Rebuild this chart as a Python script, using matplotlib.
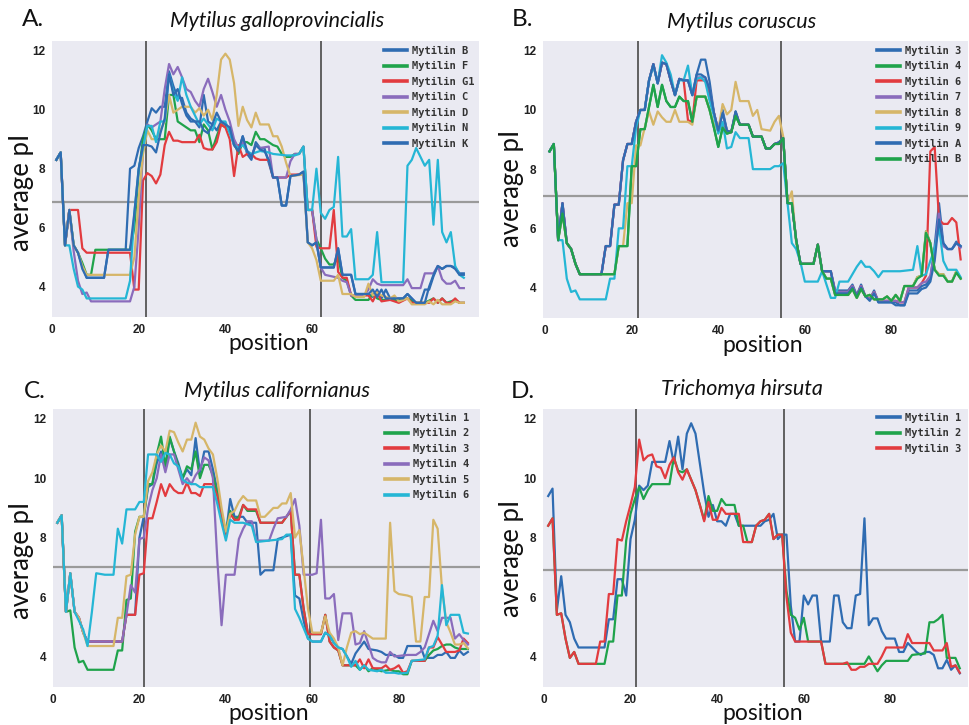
import matplotlib
matplotlib.use("Agg")
import matplotlib.pyplot as plt

# ---------------- data (vertices: position, average pI) ----------------
# Panel A: Mytilus galloprovincialis
a_labels = ["Mytilin B", "Mytilin F", "Mytilin G1", "Mytilin C", "Mytilin D", "Mytilin N", "Mytilin K"]
a_B = [(1,8.3),(2,8.55),(3,5.4),(4,6.6),(5,5.4),(6,5.15),(7,4.7),(8,4.3),(12,4.3),(13,5.25),(17,5.25),(18,8.0),(19,8.1),(20,8.7),(21,9.1),(22,9.6),(23,10.05),(24,9.9),(25,10.1),(26,10.1),(27,11.3),(28,10.8),(29,10.4),(30,10.4),(31,9.9),(32,9.7),(33,9.6),(34,9.4),(35,10.5),(36,9.6),(37,9.5),(38,9.3),(39,9.6),(40,9.5),(41,9.3),(42,8.8),(43,8.6),(44,9.1),(45,8.5),(46,8.3),(47,8.9),(48,8.7),(49,8.7),(50,8.2),(51,7.7),(52,7.7),(53,6.75),(54,6.75),(55,7.75),(57,7.8),(58,7.9),(59,5.5),(60,5.4),(61,5.5),(62,4.65),(65,4.65),(66,5.3),(67,4.4),(69,4.4),(70,3.75),(73,3.75),(74,3.65),(75,3.9),(76,3.6),(77,3.9),(78,3.6),(81,3.6),(82,3.75),(83,3.6),(84,3.45),(85,3.45),(86,3.9),(87,3.9),(88,4.35),(89,4.7),(90,4.6),(91,4.7),(92,4.7),(93,4.65),(94,4.45),(95,4.45)]
a_F = [(1,8.3),(2,8.55),(3,5.4),(4,6.6),(5,5.4),(6,5.15),(7,4.8),(8,4.4),(9,4.4),(10,5.25),(18,5.25),(19,6.0),(20,7.9),(21,9.0),(22,9.5),(23,9.3),(24,9.0),(26,9.0),(27,10.5),(28,10.5),(29,9.6),(30,9.5),(31,9.4),(32,9.3),(33,9.3),(34,8.9),(35,9.5),(36,9.3),(37,8.65),(38,9.1),(39,9.5),(40,9.4),(41,9.3),(42,8.9),(43,8.5),(44,8.9),(45,8.9),(46,8.8),(47,9.25),(48,9.0),(49,9.0),(50,8.9),(51,8.8),(52,8.75),(53,8.5),(54,8.4),(55,8.4),(56,8.5),(57,8.5),(58,8.75),(59,6.6),(60,6.6),(61,5.6),(62,5.3),(63,4.95),(64,4.75),(65,4.75),(66,5.0),(67,4.3),(68,4.2),(69,3.7),(70,3.55),(73,3.55),(74,3.75),(75,3.6),(76,3.55),(80,3.55),(82,3.6),(84,3.45),(86,3.45),(88,3.6),(89,3.45),(90,3.6),(91,3.45),(93,3.55),(94,3.45),(95,3.45)]
a_G1 = [(1,8.3),(2,8.55),(3,5.4),(4,6.6),(6,6.6),(7,5.3),(8,5.15),(18,5.15),(19,3.9),(20,3.9),(21,7.6),(22,7.85),(23,7.75),(24,7.5),(25,7.8),(26,8.8),(27,9.25),(28,8.95),(29,8.95),(30,8.9),(33,8.9),(34,9.15),(35,8.7),(36,8.65),(37,8.65),(38,8.9),(39,9.5),(40,9.4),(41,9.0),(42,7.75),(43,8.8),(44,8.4),(45,8.5),(46,8.5),(47,8.35),(48,8.3),(50,8.3),(51,7.7),(54,7.7),(55,7.8),(57,7.8),(58,7.85),(59,6.6),(60,6.6),(61,5.35),(62,5.3),(64,5.3),(65,6.6),(66,4.5),(67,4.3),(68,4.3),(69,3.7),(73,3.7),(74,3.5),(75,3.8),(76,3.5),(78,3.55),(80,3.45),(82,3.6),(83,3.45),(87,3.45),(88,3.6),(89,3.45),(90,3.6),(91,3.45),(92,3.45),(93,3.6),(94,3.45),(95,3.45)]
a_C = [(1,8.3),(2,8.55),(3,5.4),(4,6.6),(5,5.2),(6,4.2),(7,3.75),(8,3.8),(9,3.5),(18,3.5),(19,4.0),(20,6.0),(21,8.6),(22,9.5),(23,9.4),(24,9.5),(25,9.6),(26,10.7),(27,11.55),(28,11.2),(29,11.45),(30,11.1),(31,10.7),(32,10.6),(33,10.3),(34,10.1),(35,10.7),(36,11.05),(37,10.6),(38,10.1),(39,10.5),(40,10.0),(41,9.6),(42,9.0),(43,8.7),(44,8.9),(45,8.6),(46,8.4),(47,8.8),(48,8.7),(50,8.75),(51,7.7),(54,7.7),(55,8.25),(56,8.5),(57,8.5),(58,8.75),(59,6.6),(60,6.6),(61,5.6),(62,4.65),(63,4.4),(66,4.3),(67,4.2),(68,4.15),(69,3.7),(72,3.7),(73,3.9),(74,4.25),(75,4.1),(76,4.05),(81,4.05),(82,4.25),(83,3.95),(85,3.95),(86,4.45),(88,4.45),(89,4.7),(90,4.25),(91,4.1),(92,4.1),(93,4.2),(94,3.95),(95,3.95)]
a_D = [(1,8.3),(2,8.55),(3,5.4),(4,6.6),(5,5.4),(6,5.15),(7,4.7),(8,4.4),(18,4.4),(19,5.0),(20,7.0),(21,8.5),(22,9.3),(23,9.0),(24,9.0),(25,9.3),(26,9.6),(27,10.5),(28,9.9),(29,10.0),(30,10.1),(32,10.1),(33,9.9),(34,10.05),(35,9.8),(36,10.0),(37,9.65),(38,10.5),(39,11.7),(40,11.9),(41,11.7),(42,10.9),(43,9.45),(44,10.1),(45,9.65),(46,9.4),(47,9.9),(48,9.5),(50,9.5),(51,9.1),(52,9.1),(53,8.75),(54,8.2),(55,7.75),(58,7.8),(59,5.5),(60,5.3),(61,4.9),(62,4.2),(65,4.2),(66,4.4),(67,3.75),(69,3.75),(70,3.65),(72,3.65),(73,4.1),(74,3.7),(75,3.8),(76,3.7),(78,3.6),(79,3.7),(80,3.5),(82,3.6),(83,3.4),(86,3.4),(87,3.5),(88,3.4),(89,3.55),(90,3.4),(92,3.4),(93,3.5),(94,3.45),(95,3.45)]
a_N = [(1,8.3),(2,8.55),(3,5.4),(4,5.4),(5,4.6),(6,4.0),(7,3.9),(8,3.6),(17,3.6),(18,4.2),(19,6.5),(20,8.0),(21,8.7),(22,9.45),(23,9.45),(24,8.9),(25,9.6),(26,9.6),(27,11.2),(28,10.6),(29,10.3),(30,11.1),(31,10.5),(32,10.1),(33,9.8),(34,9.5),(35,9.7),(36,9.5),(37,9.3),(38,9.7),(39,9.6),(40,9.6),(41,9.2),(42,8.8),(43,8.7),(44,8.8),(45,8.6),(46,8.5),(48,8.6),(50,8.55),(51,8.5),(54,8.45),(56,8.45),(57,8.5),(58,8.75),(59,6.6),(60,6.6),(61,8.0),(62,6.5),(63,6.3),(64,6.6),(65,6.7),(66,8.4),(67,5.7),(68,5.7),(69,5.95),(70,4.25),(73,4.25),(74,4.4),(75,5.85),(76,4.15),(81,4.15),(82,8.1),(83,8.3),(84,8.7),(85,8.4),(86,8.1),(87,8.3),(88,6.1),(89,8.3),(90,5.85),(91,5.5),(92,5.85),(93,4.7),(94,4.4),(95,4.3)]
a_K = [(1,8.3),(2,8.55),(3,5.4),(4,6.6),(5,5.4),(6,5.15),(7,4.6),(8,4.3),(12,4.3),(13,5.25),(18,5.25),(19,6.5),(20,8.0),(21,8.8),(22,8.8),(23,8.75),(24,8.55),(25,9.2),(26,9.7),(27,11.2),(28,10.5),(29,10.7),(30,10.2),(31,9.8),(32,9.6),(34,9.6),(35,9.3),(36,9.2),(37,9.5),(38,9.9),(39,9.6),(40,9.5),(41,9.4),(42,8.8),(43,8.6),(44,9.1),(45,8.6),(46,8.4),(47,8.8),(48,8.65),(49,8.6),(50,8.3),(51,7.7),(52,7.7),(53,6.75),(54,6.75),(55,7.75),(57,7.8),(58,7.9),(59,5.5),(60,5.4),(61,5.5),(62,4.65),(65,4.65),(66,5.3),(67,4.4),(69,4.4),(70,3.75),(73,3.75),(74,3.9),(75,3.65),(76,3.9),(77,3.6),(81,3.6),(82,3.75),(83,3.6),(84,3.45),(86,3.45),(87,4.0),(88,4.4),(89,4.7),(90,4.6),(91,4.7),(92,4.7),(93,4.6),(94,4.4),(95,4.4)]

# Panel B: Mytilus coruscus
b_labels = ["Mytilin 3", "Mytilin 4", "Mytilin 6", "Mytilin 7", "Mytilin 8", "Mytilin 9", "Mytilin A", "Mytilin B"]
b_3 = [(1,8.6),(2,8.85),(3,5.6),(4,6.85),(5,5.5),(6,5.3),(7,4.8),(8,4.45),(13,4.45),(14,5.4),(15,5.4),(16,6.8),(17,6.8),(18,8.3),(19,8.85),(20,8.85),(21,9.6),(22,10.0),(23,10.0),(24,11.0),(25,11.55),(26,10.9),(27,11.6),(28,11.55),(29,11.0),(30,10.5),(31,11.05),(32,11.0),(33,11.0),(34,10.5),(35,11.2),(36,11.7),(37,11.7),(38,10.95),(39,9.9),(40,9.3),(41,10.0),(42,9.3),(43,9.25),(44,9.95),(45,9.5),(47,9.5),(48,9.1),(50,9.1),(51,8.7),(52,8.7),(53,8.85),(54,8.9),(55,9.05),(56,6.85),(57,6.85),(58,5.6),(59,4.8),(62,4.8),(63,5.45),(64,4.55),(66,4.55),(67,3.9),(70,3.9),(71,4.1),(72,3.75),(73,4.1),(74,3.7),(75,3.6),(76,3.9),(77,3.5),(81,3.5),(82,3.4),(83,3.4),(84,3.9),(86,3.9),(87,4.05),(88,4.1),(89,4.3),(90,5.4),(91,6.85),(92,5.5),(93,5.3),(94,5.3),(95,5.55),(96,5.4)]
b_4 = [(1,8.6),(2,8.85),(3,5.6),(4,6.5),(5,5.5),(6,5.3),(7,4.8),(8,4.45),(16,4.45),(17,5.4),(19,5.4),(20,8.1),(21,8.1),(22,9.35),(23,9.35),(24,10.1),(25,10.85),(26,10.1),(27,10.85),(28,10.3),(29,10.1),(30,10.1),(31,10.45),(32,10.3),(33,10.3),(34,9.6),(35,10.45),(37,10.45),(38,10.0),(39,9.4),(40,8.75),(41,9.4),(42,9.2),(43,9.25),(44,9.8),(45,9.5),(47,9.5),(48,9.1),(50,9.1),(51,8.7),(52,8.7),(53,8.85),(54,8.85),(55,9.05),(56,6.85),(57,6.85),(58,5.6),(59,4.8),(62,4.8),(63,5.45),(64,4.55),(65,4.3),(66,4.3),(67,3.75),(70,3.75),(71,3.95),(72,3.65),(73,3.95),(74,3.7),(75,3.75),(76,3.6),(78,3.6),(79,3.7),(80,3.55),(81,3.75),(82,3.55),(83,4.05),(85,4.05),(86,4.35),(87,4.4),(88,5.9),(89,5.5),(90,4.6),(91,4.45),(92,4.45),(93,4.2),(94,4.2),(95,4.55),(96,4.3)]
b_6 = [(1,8.6),(2,8.85),(3,5.6),(4,6.85),(5,5.5),(6,5.3),(7,4.8),(8,4.45),(13,4.45),(14,5.4),(15,5.4),(16,6.8),(17,6.8),(18,8.3),(19,8.85),(20,8.85),(21,9.6),(22,10.0),(23,10.0),(24,11.0),(25,11.55),(26,10.9),(27,11.6),(28,11.55),(29,11.0),(30,10.5),(31,11.05),(32,11.0),(33,9.65),(34,9.6),(35,11.0),(37,11.0),(38,10.5),(39,9.9),(40,9.3),(41,9.5),(42,9.3),(43,9.25),(44,9.9),(45,9.5),(47,9.5),(48,9.1),(50,9.1),(51,8.7),(52,8.7),(53,8.85),(54,8.9),(55,9.05),(56,6.85),(57,6.85),(58,5.6),(59,4.8),(62,4.8),(63,5.45),(64,4.55),(66,4.55),(67,3.85),(70,3.85),(71,4.05),(72,3.7),(73,4.05),(74,3.7),(75,3.6),(76,3.85),(77,3.55),(81,3.55),(82,3.5),(83,3.5),(84,4.0),(86,4.0),(87,4.15),(88,4.4),(89,8.6),(90,8.75),(91,6.3),(92,6.15),(93,6.15),(94,6.35),(95,6.2),(96,4.95)]
b_7 = [(1,8.6),(2,8.85),(3,5.6),(4,6.85),(5,5.5),(6,5.3),(7,4.8),(8,4.45),(13,4.45),(14,5.4),(15,5.4),(16,6.8),(17,6.8),(18,8.3),(19,8.85),(20,8.85),(21,9.6),(22,10.0),(23,10.0),(24,11.0),(25,11.55),(26,10.9),(27,11.6),(28,11.55),(29,11.0),(30,10.5),(31,11.05),(32,11.0),(33,11.0),(34,10.5),(35,11.1),(36,11.1),(37,11.1),(38,10.7),(39,9.9),(40,9.3),(41,9.9),(42,9.3),(43,9.25),(44,9.9),(45,9.5),(47,9.5),(48,9.1),(50,9.1),(51,8.7),(52,8.7),(53,8.85),(54,8.9),(55,9.05),(56,6.85),(57,6.85),(58,5.6),(59,4.8),(62,4.8),(63,5.45),(64,4.55),(66,4.55),(67,3.85),(70,3.85),(71,4.05),(72,3.7),(73,4.05),(74,3.7),(75,3.6),(76,3.85),(77,3.55),(81,3.55),(82,3.5),(83,3.5),(84,4.0),(86,4.0),(87,4.15),(88,4.2),(89,4.4),(90,5.2),(91,6.5),(92,5.4),(93,5.3),(94,5.3),(95,5.5),(96,5.35)]
b_8 = [(1,8.6),(2,8.85),(3,5.6),(4,6.5),(5,5.5),(6,5.3),(7,4.8),(8,4.45),(16,4.45),(17,5.4),(18,5.4),(19,6.85),(20,6.85),(21,8.8),(22,8.8),(23,9.4),(24,9.95),(25,9.5),(26,9.95),(27,9.75),(28,9.6),(29,9.6),(30,10.0),(31,9.6),(32,9.6),(33,9.6),(34,9.5),(35,10.45),(37,10.45),(38,10.0),(39,9.5),(40,9.3),(41,10.2),(42,9.85),(43,10.0),(44,10.95),(45,10.3),(47,10.3),(48,9.8),(49,10.0),(50,9.35),(52,9.3),(53,9.6),(54,9.8),(55,9.1),(56,6.85),(57,7.25),(58,5.5),(59,4.8),(62,4.8),(63,5.45),(64,4.55),(65,4.3),(66,4.3),(67,3.75),(70,3.75),(71,3.95),(72,3.65),(73,3.95),(74,3.7),(75,3.75),(76,3.6),(78,3.6),(79,3.7),(80,3.55),(81,3.75),(82,3.55),(83,4.05),(85,4.05),(86,4.35),(87,4.4),(88,5.9),(89,5.5),(90,4.6),(91,4.45),(92,4.45),(93,4.2),(94,4.2),(95,4.55),(96,4.3)]
b_9 = [(1,8.6),(2,8.85),(3,5.6),(4,5.6),(5,4.3),(6,3.85),(7,3.9),(8,3.6),(14,3.6),(15,4.3),(16,4.3),(17,6.0),(18,6.0),(19,8.1),(20,8.1),(21,9.4),(22,10.0),(23,10.0),(24,11.0),(25,11.5),(26,10.9),(27,11.85),(28,11.6),(29,11.2),(30,10.5),(31,11.0),(32,11.0),(33,11.5),(34,10.5),(35,11.05),(36,11.1),(37,10.95),(38,10.3),(39,9.8),(40,9.2),(41,9.6),(42,8.7),(43,8.75),(44,9.25),(45,9.05),(47,9.05),(48,8.0),(52,8.0),(53,8.1),(54,8.1),(55,8.2),(56,6.85),(57,5.5),(58,5.3),(59,4.85),(60,4.2),(63,4.2),(64,4.55),(65,4.1),(66,3.65),(67,3.65),(68,4.2),(70,4.2),(71,4.45),(72,4.7),(73,4.9),(74,4.7),(75,4.7),(76,4.55),(77,4.35),(78,4.55),(82,4.55),(85,4.6),(86,5.4),(87,4.4),(88,4.45),(89,4.9),(90,5.3),(91,6.05),(92,4.9),(93,4.6),(95,4.6),(96,4.35)]
b_A = [(1,8.6),(2,8.85),(3,5.6),(4,6.85),(5,5.5),(6,5.3),(7,4.8),(8,4.45),(13,4.45),(14,5.4),(15,5.4),(16,6.8),(17,6.8),(18,8.3),(19,8.85),(20,8.85),(21,9.6),(22,10.0),(23,10.0),(24,11.0),(25,11.55),(26,10.9),(27,11.6),(28,11.55),(29,11.0),(30,10.5),(31,11.05),(32,11.0),(33,11.0),(34,10.5),(35,11.2),(36,11.2),(37,11.1),(38,10.7),(39,9.9),(40,9.3),(41,9.9),(42,9.3),(43,9.25),(44,9.95),(45,9.5),(47,9.5),(48,9.1),(50,9.1),(51,8.7),(52,8.7),(53,8.85),(54,8.9),(55,9.05),(56,6.85),(57,6.85),(58,5.6),(59,4.8),(62,4.8),(63,5.45),(64,4.55),(66,4.55),(67,3.8),(70,3.8),(71,4.0),(72,3.7),(73,4.0),(74,3.7),(75,3.55),(76,3.8),(77,3.5),(80,3.5),(81,3.4),(83,3.4),(84,3.8),(86,3.8),(87,3.95),(88,4.0),(89,4.2),(90,4.9),(91,6.3),(92,5.5),(93,5.3),(94,5.3),(95,5.5),(96,5.4)]
b_B = [(1,8.6),(2,8.85),(3,5.6),(4,6.5),(5,5.5),(6,5.3),(7,4.8),(8,4.45),(16,4.45),(17,5.4),(19,5.4),(20,8.1),(21,8.1),(22,9.35),(23,9.35),(24,10.1),(25,10.85),(26,10.1),(27,10.85),(28,10.3),(29,10.1),(30,10.1),(31,10.45),(32,10.3),(33,10.3),(34,9.6),(35,10.45),(37,10.45),(38,10.0),(39,9.4),(40,8.75),(41,9.4),(42,9.2),(43,9.25),(44,9.8),(45,9.5),(47,9.5),(48,9.1),(50,9.1),(51,8.7),(52,8.7),(53,8.85),(54,8.85),(55,9.05),(56,6.85),(57,6.85),(58,5.6),(59,4.8),(62,4.8),(63,5.45),(64,4.55),(65,4.3),(66,4.3),(67,3.75),(70,3.75),(71,3.95),(72,3.65),(73,3.95),(74,3.7),(75,3.75),(76,3.6),(78,3.6),(79,3.7),(80,3.55),(81,3.75),(82,3.55),(83,4.05),(85,4.05),(86,4.3),(87,4.4),(88,5.85),(89,5.5),(90,4.6),(91,4.4),(92,4.4),(93,4.2),(94,4.2),(95,4.5),(96,4.3)]

# Panel C: Mytilus californianus
c_labels = ["Mytilin 1", "Mytilin 2", "Mytilin 3", "Mytilin 4", "Mytilin 5", "Mytilin 6"]
c_1 = [(1,8.5),(2,8.75),(3,5.5),(4,6.8),(5,5.5),(6,5.3),(7,4.8),(8,4.5),(16,4.5),(17,5.4),(19,5.4),(20,8.0),(21,8.7),(22,9.7),(23,9.8),(24,10.5),(25,10.9),(26,10.3),(27,11.35),(28,10.9),(29,10.5),(30,10.0),(31,10.3),(32,10.1),(33,11.35),(34,10.2),(35,10.9),(36,10.9),(37,10.3),(38,9.6),(39,8.8),(40,8.1),(41,9.3),(42,8.7),(43,8.7),(44,8.7),(45,8.5),(46,8.5),(47,8.5),(48,6.75),(49,6.9),(51,6.9),(52,7.95),(53,8.0),(54,8.05),(55,8.1),(56,6.05),(57,5.95),(58,5.2),(59,4.6),(60,4.5),(62,4.5),(63,4.8),(64,4.7),(65,4.45),(66,4.3),(67,4.25),(68,4.0),(69,3.75),(70,4.1),(71,4.3),(72,4.5),(73,4.25),(75,4.2),(76,4.15),(77,4.05),(79,4.05),(80,3.95),(81,3.95),(82,4.35),(85,4.35),(86,3.95),(88,3.95),(89,4.05),(90,4.05),(91,4.15),(92,3.95),(93,3.95),(94,4.2),(95,4.05),(96,4.15)]
c_2 = [(1,8.5),(2,8.75),(3,5.5),(4,5.55),(5,4.3),(6,3.8),(7,3.85),(8,3.55),(14,3.55),(15,4.2),(16,4.2),(17,5.9),(18,5.95),(19,8.2),(20,8.7),(21,8.7),(22,9.8),(23,9.8),(24,10.8),(25,11.4),(26,10.4),(27,11.4),(28,10.9),(29,10.4),(30,10.0),(31,10.4),(32,10.3),(33,10.9),(34,10.0),(35,10.45),(36,10.45),(37,10.1),(38,9.5),(39,8.8),(40,8.2),(41,8.9),(42,8.6),(43,8.7),(44,9.1),(45,8.9),(47,8.9),(48,8.5),(53,8.5),(54,8.7),(55,8.9),(56,6.75),(57,6.75),(58,5.6),(59,4.75),(62,4.75),(63,5.4),(64,4.5),(65,4.3),(66,4.2),(67,3.7),(70,3.7),(71,3.55),(72,3.7),(73,3.5),(74,3.6),(76,3.5),(78,3.55),(79,3.5),(80,3.5),(81,3.4),(82,3.4),(83,3.85),(86,3.85),(87,4.05),(88,4.2),(89,4.25),(90,4.35),(91,4.4),(92,4.4),(93,4.3),(94,4.25),(95,4.25),(96,4.25)]
c_3 = [(1,8.5),(2,8.75),(3,5.5),(4,6.8),(5,5.5),(6,5.3),(7,4.8),(8,4.5),(16,4.5),(17,5.4),(19,5.4),(20,6.75),(21,6.8),(22,8.65),(23,8.65),(24,9.2),(25,9.8),(26,9.4),(27,9.8),(28,9.6),(29,9.5),(30,9.5),(31,9.85),(32,9.5),(33,9.5),(34,9.4),(35,9.8),(37,9.8),(38,9.4),(39,8.6),(40,8.0),(41,8.8),(42,8.6),(43,8.6),(44,9.1),(45,8.95),(47,8.95),(48,8.5),(53,8.5),(54,8.7),(55,8.9),(56,6.75),(57,6.75),(58,5.6),(59,4.75),(62,4.75),(63,5.4),(64,4.5),(65,4.3),(66,4.2),(67,3.7),(70,3.7),(71,3.9),(72,3.6),(73,3.9),(74,3.6),(76,3.6),(77,3.7),(78,3.55),(79,3.6),(80,3.7),(81,3.45),(82,3.5),(83,3.85),(86,3.85),(87,4.3),(88,4.3),(89,4.65),(90,4.4),(91,4.15),(93,4.15),(94,4.2),(95,4.6),(96,4.45)]
c_4 = [(1,8.5),(2,8.75),(3,5.5),(4,6.8),(5,5.5),(6,5.3),(7,4.8),(8,4.5),(16,4.5),(17,5.4),(18,6.4),(19,6.15),(20,7.95),(21,8.0),(22,9.0),(23,9.6),(24,10.0),(25,10.8),(26,10.2),(27,10.8),(28,10.8),(29,10.3),(30,9.8),(31,10.0),(32,9.8),(33,10.1),(34,10.3),(35,10.7),(36,10.6),(37,10.0),(38,7.3),(39,5.05),(40,6.75),(42,6.75),(43,7.95),(44,8.3),(45,8.55),(46,8.55),(47,7.9),(50,7.9),(51,8.3),(52,8.65),(54,8.7),(55,8.95),(56,9.3),(57,8.4),(58,6.75),(60,6.75),(61,6.8),(62,8.6),(63,5.95),(64,5.95),(65,6.1),(66,4.55),(67,5.45),(69,5.45),(70,4.4),(71,4.45),(72,4.85),(73,4.4),(74,3.95),(75,3.85),(76,3.8),(77,3.8),(78,4.15),(79,4.0),(82,4.05),(84,4.05),(85,4.15),(86,4.3),(87,4.75),(88,5.2),(89,4.85),(90,5.3),(92,5.3),(93,4.6),(94,4.75),(95,4.55),(96,4.4)]
c_5 = [(1,8.5),(2,8.75),(3,5.5),(4,6.8),(5,5.5),(6,5.3),(7,4.8),(8,4.35),(14,4.35),(15,5.3),(16,5.3),(17,6.7),(18,6.75),(19,8.1),(20,8.7),(21,8.7),(22,9.9),(23,10.2),(24,10.8),(25,11.1),(26,10.9),(27,11.6),(28,11.55),(29,11.2),(30,10.9),(31,11.3),(32,11.3),(33,11.87),(34,11.4),(35,11.3),(36,11.0),(37,10.8),(38,10.0),(39,9.0),(40,8.2),(41,8.8),(42,8.9),(43,9.2),(44,9.4),(45,9.25),(47,9.25),(48,8.7),(49,8.7),(50,8.85),(51,9.0),(52,9.0),(53,9.15),(54,9.15),(55,9.5),(56,8.0),(57,8.25),(58,6.95),(59,5.6),(60,4.8),(62,4.8),(63,5.35),(64,4.8),(65,4.6),(66,4.3),(67,3.7),(68,4.3),(69,4.8),(70,4.85),(71,4.75),(72,4.8),(73,4.7),(74,4.6),(77,4.6),(78,8.5),(79,6.2),(80,6.1),(82,6.05),(83,6.0),(84,4.5),(85,4.5),(86,6.0),(87,6.0),(88,8.6),(89,8.3),(90,6.3),(91,5.15),(92,4.8),(93,4.4),(94,4.4),(95,4.45),(96,4.27)]
c_6 = [(1,8.5),(2,8.75),(3,5.5),(4,6.8),(5,5.5),(6,5.2),(7,4.9),(8,4.35),(9,5.5),(10,6.8),(12,6.75),(14,6.75),(15,8.3),(16,7.8),(17,8.95),(19,8.95),(20,9.2),(21,9.2),(22,10.8),(24,10.8),(25,10.55),(26,10.85),(27,10.8),(28,10.5),(29,10.4),(30,9.95),(31,9.85),(32,9.8),(33,9.8),(34,9.7),(37,9.7),(38,9.15),(39,8.5),(40,7.9),(41,8.6),(42,8.5),(44,8.5),(46,8.4),(47,7.85),(53,7.95),(54,8.1),(55,8.1),(56,5.6),(57,5.3),(58,4.95),(59,4.6),(60,4.5),(62,4.5),(63,4.8),(64,4.7),(65,4.45),(66,4.3),(67,4.25),(68,4.0),(69,3.65),(70,3.85),(71,3.55),(72,3.7),(73,3.55),(75,3.5),(76,3.55),(77,3.45),(79,3.45),(80,3.42),(82,3.45),(83,3.85),(86,3.9),(87,4.3),(88,4.35),(89,4.7),(90,6.4),(91,5.05),(92,5.4),(94,5.4),(95,4.8),(96,4.77)]

# Panel D: Trichomya hirsuta
d_labels = ["Mytilin 1", "Mytilin 2", "Mytilin 3"]
d_1 = [(1,9.4),(2,9.65),(3,5.55),(4,6.7),(5,5.4),(6,5.15),(7,4.6),(8,4.3),(14,4.3),(15,5.25),(16,5.25),(17,6.6),(18,6.6),(19,6.05),(20,7.95),(21,8.6),(22,9.75),(23,9.6),(24,9.75),(25,10.55),(28,10.55),(29,11.25),(30,10.5),(31,11.4),(32,10.3),(33,11.5),(34,11.85),(35,11.5),(36,10.5),(37,9.5),(38,8.7),(39,9.1),(40,8.55),(41,8.55),(42,8.4),(43,8.8),(44,8.8),(45,8.4),(50,8.4),(51,8.55),(52,8.6),(53,8.8),(54,7.95),(55,8.1),(56,8.1),(57,5.7),(58,4.5),(59,4.5),(60,6.05),(61,5.75),(62,6.05),(63,6.05),(64,4.5),(66,4.5),(67,6.05),(68,6.05),(69,5.15),(70,4.95),(71,4.95),(72,6.05),(73,6.1),(74,8.65),(75,5.05),(76,5.28),(77,5.28),(78,4.85),(79,4.6),(81,4.6),(82,4.15),(83,4.15),(84,4.45),(85,4.3),(86,4.15),(87,4.05),(88,4.15),(89,4.15),(90,4.05),(91,3.6),(92,3.6),(93,3.88),(94,3.55),(95,3.7),(96,3.43)]
d_2 = [(1,8.4),(2,8.65),(3,5.4),(4,5.45),(5,4.6),(6,3.95),(7,4.15),(8,3.75),(14,3.75),(15,4.5),(16,4.5),(17,6.05),(18,6.05),(19,7.9),(20,8.8),(21,9.3),(22,9.7),(23,9.3),(24,9.6),(25,9.8),(29,9.8),(30,10.7),(31,10.25),(32,10.2),(33,10.3),(34,9.95),(35,9.6),(36,9.1),(37,8.6),(38,9.4),(39,8.9),(40,8.9),(41,9.3),(42,9.1),(44,9.1),(45,8.4),(46,8.4),(47,7.85),(48,7.85),(49,8.4),(50,8.55),(51,8.6),(52,8.8),(53,7.95),(54,8.1),(55,8.1),(56,6.2),(57,5.4),(58,5.3),(59,4.9),(60,5.3),(61,4.5),(64,4.5),(65,3.75),(74,3.75),(75,4.0),(76,3.75),(77,3.5),(78,3.7),(79,3.85),(84,3.85),(85,4.05),(88,4.1),(89,5.15),(90,5.15),(91,5.25),(92,5.4),(93,3.95),(95,3.95),(96,3.6)]
d_3 = [(1,8.4),(2,8.65),(3,5.4),(4,5.45),(5,4.6),(6,3.95),(7,4.15),(8,3.75),(12,3.75),(13,4.5),(14,4.5),(15,6.1),(16,6.1),(17,7.95),(18,7.9),(19,8.55),(20,9.1),(21,9.7),(22,11.3),(23,10.6),(24,10.75),(25,10.8),(26,10.4),(27,10.35),(28,10.0),(29,10.45),(30,10.7),(31,10.2),(32,9.95),(33,10.3),(34,9.95),(35,9.6),(36,9.1),(37,8.55),(38,9.2),(39,8.6),(40,8.6),(41,9.0),(42,8.8),(45,8.8),(46,7.85),(48,7.85),(49,8.4),(50,8.55),(51,8.6),(52,8.8),(53,7.95),(54,8.1),(55,8.1),(56,6.0),(57,4.8),(58,4.5),(64,4.5),(65,3.75),(69,3.75),(70,3.8),(71,3.55),(72,3.55),(73,3.65),(74,3.65),(75,3.75),(77,3.75),(78,4.0),(79,4.3),(83,4.3),(84,4.75),(85,4.45),(89,4.45),(90,4.2),(92,4.2),(93,4.45),(94,3.65),(95,3.7),(96,3.45)]

titles = ["Mytilus galloprovincialis", "Mytilus coruscus", "Mytilus californianus", "Trichomya hirsuta"]
letters = ["A.", "B.", "C.", "D."]
thresholds = [6.87, 7.1, 7.0, 6.92]
domains = [(21.6, 62.0), (21.4, 54.6), (21.0, 59.4), (21.3, 55.5)]

panels = [
    (a_labels, [a_B, a_F, a_G1, a_C, a_D, a_N, a_K]),
    (b_labels, [b_3, b_4, b_6, b_7, b_8, b_9, b_A, b_B]),
    (c_labels, [c_1, c_2, c_3, c_4, c_5, c_6]),
    (d_labels, [d_1, d_2, d_3]),
]

# ---------------- style ----------------
palette = ["#2f6cb2", "#1fa34b", "#e23b3f", "#8a6cbc", "#d6b669", "#25b6d5"]
W, H = 969, 725
fig = plt.figure(figsize=(W / 100, H / 100), dpi=100)

# axes rectangles in pixels: left, top, right, bottom
rects_px = [(52, 41, 479, 317), (543, 41, 968, 318), (53, 409, 480, 687), (543, 409, 968, 687)]
xlims = [(0.0, 98.5), (-0.5, 97.7), (0.1, 98.8), (-0.2, 97.9)]
title_px = [(277, 21), (742, 22), (277, 391), (742, 389)]
letter_px = [(22, 20), (512, 20), (24, 392), (511, 392)]
ylabel_px = [(21, 192), (512, 188), (21, 560), (512, 558)]
xlabel_px = [(269, 344), (763, 346), (269, 714), (763, 714)]
legend_px = [(384, 46), (877, 46), (385, 413), (877, 413)]

def fx(px):
    return px / W

def fy(py):
    return 1 - py / H

for i, (labels, series) in enumerate(panels):
    l, t, r, b = rects_px[i]
    ax = fig.add_axes([fx(l), fy(b), (r - l) / W, (b - t) / H])
    ax.set_facecolor("#eaeaf2")
    for s in ax.spines.values():
        s.set_visible(False)
    for j, (lab, pts) in enumerate(zip(labels, series)):
        xs = [p[0] for p in pts]
        ys = [p[1] for p in pts]
        ax.plot(xs, ys, color=palette[j % 6], lw=1.6, label=lab, zorder=3)
    ax.axhline(thresholds[i], color="#9a9a9a", lw=1.6, zorder=2)
    for v in domains[i]:
        ax.axvline(v, color="#555555", lw=1.3, zorder=2)
    ax.set_xlim(*xlims[i])
    ax.set_ylim(2.97, 12.33)
    ax.set_xticks([0, 20, 40, 60, 80])
    ax.set_yticks([4, 6, 8, 10, 12])
    ax.tick_params(length=0, pad=5, labelsize=8.5, labelcolor="#222222")
    for tl in ax.get_xticklabels() + ax.get_yticklabels():
        tl.set_fontweight("bold")
        tl.set_family("Liberation Sans")
    lx, ly = legend_px[i]
    ax.legend(loc="upper left", bbox_to_anchor=(fx(lx), fy(ly)), bbox_transform=fig.transFigure,
              frameon=False, borderpad=0, borderaxespad=0, handlelength=2.2,
              handletextpad=0.45, labelspacing=0.52,
              prop={"family": "DejaVu Sans Mono", "weight": "bold", "size": 7.5})
    for txt in ax.get_legend().get_texts():
        txt.set_color("#333333")
    for ln in ax.get_legend().get_lines():
        ln.set_linewidth(2.6)

    tx, ty = title_px[i]
    fig.text(fx(tx), fy(ty), titles[i], ha="center", va="center", style="italic",
             family="Lato", fontsize=15.5, color="#111111")
    lx2, ly2 = letter_px[i]
    fig.text(fx(lx2), fy(ly2), letters[i], ha="left", va="center", family="Lato",
             fontsize=17.5, color="#111111")
    yx, yy = ylabel_px[i]
    fig.text(fx(yx), fy(yy), "average pI", ha="center", va="center", rotation=90,
             family="Lato", fontsize=18.5, color="#111111")
    xx, xy = xlabel_px[i]
    fig.text(fx(xx), fy(xy), "position", ha="center", va="center",
             family="Lato", fontsize=16.5, color="#111111")

fig.savefig("out.png", dpi=100)
